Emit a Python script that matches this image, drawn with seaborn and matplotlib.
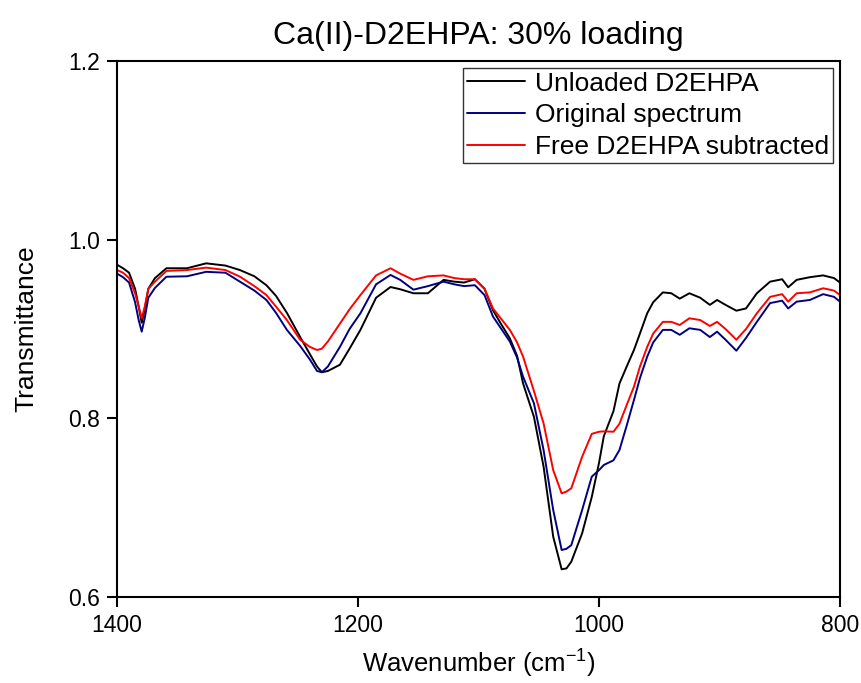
import matplotlib
matplotlib.use("Agg")
import matplotlib.pyplot as plt
import seaborn as sns
import pandas as pd

wavenumber = [1400, 1395, 1390, 1385, 1382, 1379.5, 1377, 1374, 1368.5, 1359, 1342, 1326, 1310,
              1298, 1286, 1276, 1268, 1259, 1248, 1240, 1234, 1230, 1225, 1215, 1207, 1198,
              1185, 1173, 1165, 1154, 1142, 1129, 1120, 1112, 1103, 1095, 1088, 1081, 1074,
              1068, 1063, 1054, 1046, 1038, 1031, 1027, 1023, 1014, 1006, 1000, 996, 988,
              983, 977, 971, 966, 960, 955, 947, 940, 933, 925, 916, 908, 902, 895, 886,
              878, 869, 858, 848, 843, 836, 825, 814, 805, 800]

unloaded = [0.972, 0.968, 0.963, 0.945, 0.925, 0.907, 0.922, 0.945, 0.957, 0.968, 0.968, 0.9735, 0.971,
            0.966, 0.959, 0.949, 0.937, 0.918, 0.891, 0.872, 0.858, 0.8516, 0.853, 0.860, 0.878, 0.899,
            0.935, 0.947, 0.9445, 0.940, 0.940, 0.955, 0.953, 0.952, 0.9557, 0.945, 0.921, 0.905, 0.8896,
            0.870, 0.839, 0.8017, 0.746, 0.6675, 0.631, 0.632, 0.6395, 0.6713, 0.712, 0.750, 0.780, 0.808,
            0.839, 0.858, 0.8765, 0.895, 0.9176, 0.930, 0.941, 0.940, 0.934, 0.940, 0.935, 0.927, 0.9325, 0.927, 0.9205,
            0.923, 0.940, 0.953, 0.9557, 0.9467, 0.955, 0.958, 0.960, 0.957, 0.952]

original = [0.962, 0.958, 0.952, 0.930, 0.910, 0.897, 0.912, 0.935, 0.946, 0.9585, 0.959, 0.964, 0.963,
            0.953, 0.943, 0.9325, 0.918, 0.899, 0.881, 0.866, 0.853, 0.8516, 0.858, 0.880, 0.900, 0.9176,
            0.950, 0.9605, 0.955, 0.944, 0.948, 0.953, 0.950, 0.948, 0.949, 0.938, 0.914, 0.900, 0.886,
            0.868, 0.8466, 0.8168, 0.7646, 0.6974, 0.6526, 0.654, 0.658, 0.6974, 0.7347, 0.742, 0.7478, 0.753,
            0.7646, 0.792, 0.8205, 0.845, 0.869, 0.885, 0.899, 0.899, 0.8935, 0.9008, 0.899, 0.891, 0.897, 0.888, 0.8757,
            0.890, 0.908, 0.929, 0.9317, 0.923, 0.9306, 0.9325, 0.939, 0.936, 0.9306]

subtracted = [0.966, 0.963, 0.957, 0.940, 0.925, 0.912, 0.925, 0.945, 0.953, 0.965, 0.966, 0.9687, 0.966,
              0.9586, 0.948, 0.938, 0.925, 0.910, 0.888, 0.880, 0.8765, 0.878, 0.886, 0.906, 0.922, 0.938,
              0.9600, 0.968, 0.962, 0.955, 0.959, 0.960, 0.957, 0.9557, 0.9557, 0.945, 0.923, 0.911, 0.899,
              0.885, 0.869, 0.8306, 0.7944, 0.742, 0.716, 0.718, 0.7217, 0.757, 0.7826, 0.785, 0.7854, 0.785,
              0.794, 0.815, 0.8354, 0.858, 0.880, 0.895, 0.908, 0.908, 0.9045, 0.912, 0.910, 0.9034, 0.908, 0.900, 0.888,
              0.900, 0.9176, 0.936, 0.939, 0.9306, 0.940, 0.941, 0.9456, 0.943, 0.938]

series_names = ["Unloaded D2EHPA", "Original spectrum", "Free D2EHPA subtracted"]
series_colors = ["#000000", "#000080", "#ff0000"]
x_ticks = [1400, 1200, 1000, 800]
y_ticks = [0.6, 0.8, 1.0, 1.2]

frames = []
for name, vals in zip(series_names, [unloaded, original, subtracted]):
    frames.append(pd.DataFrame({"Wavenumber": wavenumber, "Transmittance": vals, "Series": name}))
df = pd.concat(frames, ignore_index=True)

sns.set_theme(style="ticks")
plt.rcParams["font.family"] = ["Liberation Sans", "DejaVu Sans"]
plt.rcParams["mathtext.default"] = "regular"
plt.rcParams["text.color"] = "black"
plt.rcParams["axes.labelcolor"] = "black"
plt.rcParams["xtick.color"] = "black"
plt.rcParams["ytick.color"] = "black"

fig = plt.figure(figsize=(8.61, 6.83), dpi=100)
ax = fig.add_axes([117 / 861, 1 - 597 / 683, 723 / 861, 536 / 683])

sns.lineplot(data=df, x="Wavenumber", y="Transmittance", hue="Series",
             palette=dict(zip(series_names, series_colors)), hue_order=series_names,
             linewidth=1.4, ax=ax, sort=False, estimator=None)

ax.set_xlim(1400, 800)
ax.set_ylim(0.6, 1.2)
ax.set_xticks(x_ticks)
ax.set_xticklabels([str(t) for t in x_ticks])
ax.set_yticks(y_ticks)
ax.set_yticklabels([f"{t:.1f}" for t in y_ticks])
ax.tick_params(axis="both", direction="out", length=7, width=1.5, labelsize=16.5,
               color="black", labelcolor="black", top=False, right=False, pad=5)
for s in ax.spines.values():
    s.set_visible(True)
    s.set_linewidth(1.5)
    s.set_color("black")

ax.set_xlabel("Wavenumber (cm$^{-1}$)", fontsize=18.5, labelpad=8, color="black")
ax.set_ylabel("Transmittance", fontsize=19, labelpad=22, color="black")
ax.set_title("Ca(II)-D2EHPA: 30% loading", fontsize=23, pad=12, color="black")

leg = ax.legend(loc="upper right", fontsize=19, frameon=True, fancybox=False,
                edgecolor="black", handlelength=2.2, handletextpad=0.4,
                borderaxespad=0.25, labelspacing=0.3, borderpad=0.15)
leg.get_frame().set_linewidth(1.0)
for line in leg.get_lines():
    line.set_linewidth(1.4)
for t in leg.get_texts():
    t.set_color("black")

fig.savefig("out.png", dpi=100)
